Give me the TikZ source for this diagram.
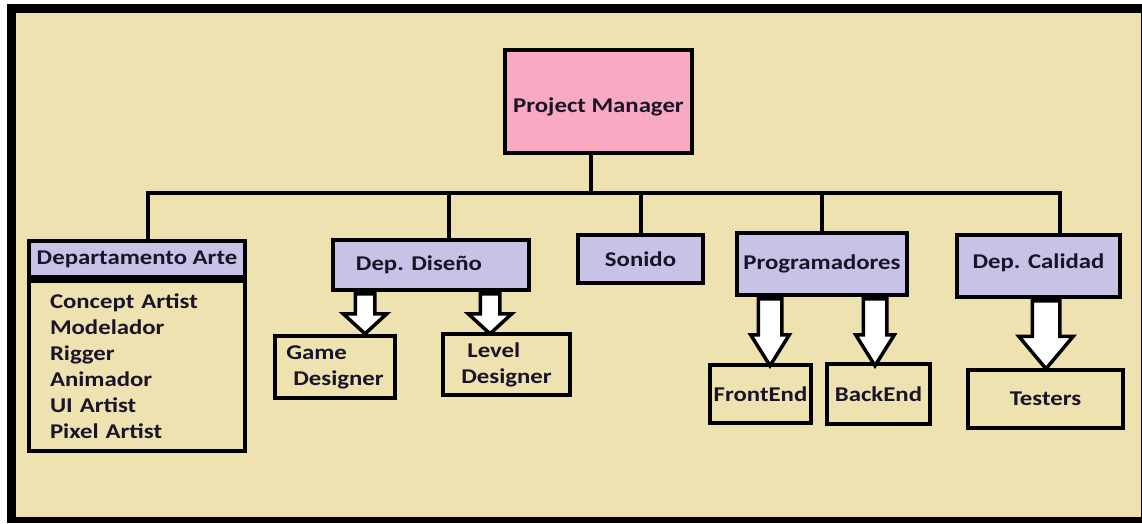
\documentclass[tikz,border=0pt]{standalone}
\usepackage{fontspec}
\setmainfont{Carlito}[FakeStretch=1.18]
\usetikzlibrary{shapes.arrows}
\definecolor{paper}{RGB}{238,226,176}
\definecolor{lila}{RGB}{200,195,230}
\definecolor{rosa}{RGB}{249,170,194}
\definecolor{ink}{RGB}{25,20,40}

\begin{document}
\begin{tikzpicture}[x=1pt, y=-1pt,
  box/.style={draw, line width=4pt, text=ink, font=\fontsize{21}{26}\selectfont\bfseries, align=center, inner sep=0pt},
  dept/.style={box, fill=lila},
  conn/.style={line width=4pt},
  fat/.style={single arrow, draw, fill=white, line width=3.5pt, shape border rotate=270, anchor=tail}
]
\useasboundingbox (0,0) rectangle (1142,523);
% frame
\fill[black] (7,4) rectangle (1142,523);
\fill[paper] (16,13) rectangle (1140.5,517);

% top
\node[box, fill=rosa, minimum width=187pt, minimum height=103pt] (pm) at (598.5,101.5) {\raisebox{-11pt}[0pt][0pt]{Project Manager}};

% departments
\node[dept, minimum width=216pt, minimum height=36pt] (arte) at (137,259) {Departamento Arte};
\node[box, anchor=north, minimum width=216pt, minimum height=170pt, text width=174pt, align=left] (artlist) at (arte.south) {Concept Artist\\Modelador\\Rigger\\Animador\\UI Artist\\Pixel Artist};
\node[dept, minimum width=196pt, minimum height=50pt] (dis) at (431,265) {Dep. Diseño\hspace{24pt}};
\node[dept, minimum width=125pt, minimum height=48pt] (son) at (640.5,259) {Sonido};
\node[dept, minimum width=170pt, minimum height=62pt] (prog) at (822,264) {Programadores};
\node[dept, minimum width=163pt, minimum height=62pt] (cal) at (1038.5,266) {\raisebox{-2pt}[0pt][0pt]{Dep. Calidad}};

% teams
\node[box, minimum width=120pt, minimum height=62pt, align=left] (gd) at (335,367) {Game\\\hspace{7pt}Designer};
\node[box, minimum width=127pt, minimum height=61pt, align=left] (ld) at (506.5,364.5) {\hspace{6pt}Level\\Designer};
\node[box, minimum width=101pt, minimum height=58pt] (fe) at (760.5,394) {FrontEnd};
\node[box, minimum width=103pt, minimum height=60pt] (be) at (878.5,394) {BackEnd};
\node[box, minimum width=155pt, minimum height=58pt] (tst) at (1045.5,399) {Testers};

% bus
\coordinate (busL) at (148,193);
\coordinate (busR) at (1060,193);
\draw[conn] (busL |- arte.north) -- (busL) -- (busR) -- (busR |- cal.north);
\draw[conn] ([xshift=-7.5pt]pm.south) -- ([xshift=-7.5pt]pm.south |- busL);
\draw[conn] ([xshift=18pt]dis.north |- busL) -- ([xshift=18pt]dis.north);
\draw[conn] (son.north |- busL) -- (son.north);
\draw[conn] (prog.north |- busL) -- (prog.north);

% block arrows
\node[fat, inner sep=8pt, minimum height=40pt, minimum width=40pt, single arrow head extend=12pt, single arrow tip angle=95] (a1) at ([xshift=-66pt]dis.south) {};
\node[fat, inner sep=8pt, minimum height=40pt, minimum width=40pt, single arrow head extend=12pt, single arrow tip angle=95] (a2) at ([xshift=59pt]dis.south) {};
\node[fat, inner sep=10pt, minimum height=67pt, minimum width=35pt, single arrow head extend=7.5pt, single arrow tip angle=64] (a3) at ([xshift=-52pt]prog.south) {};
\node[fat, inner sep=10pt, minimum height=67pt, minimum width=35pt, single arrow head extend=7.5pt, single arrow tip angle=64] (a4) at ([xshift=53pt]prog.south) {};
\node[fat, inner sep=12pt, minimum height=68pt, minimum width=51pt, single arrow head extend=13.5pt, single arrow tip angle=80] (a5) at ([xshift=7.5pt]cal.south) {};
\end{tikzpicture}
\end{document}
